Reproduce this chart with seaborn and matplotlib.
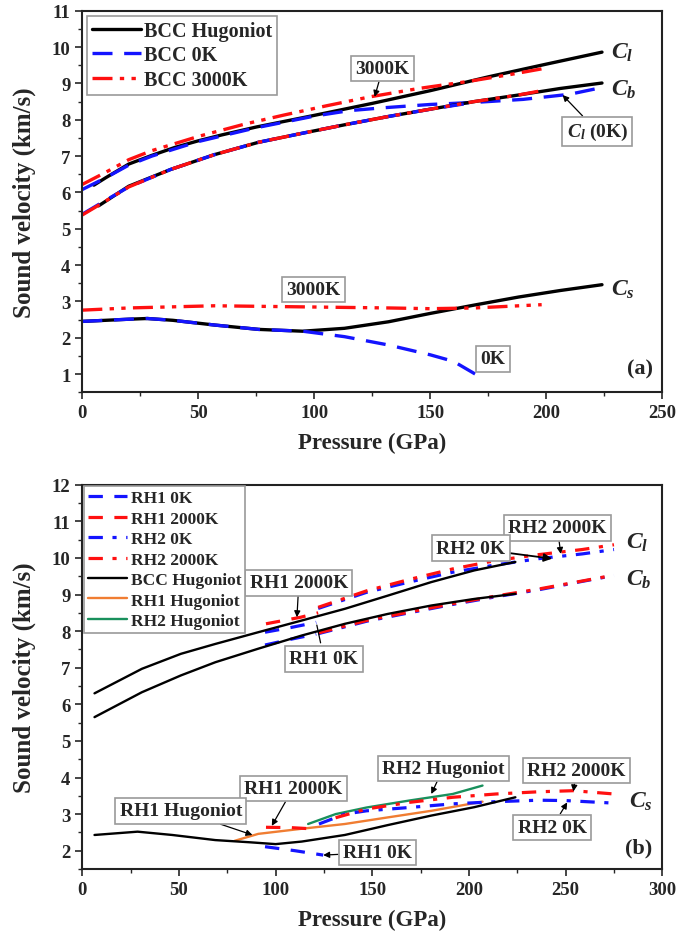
import numpy as np
import pandas as pd
import matplotlib
matplotlib.use("Agg")
import matplotlib.pyplot as plt
from matplotlib.ticker import MultipleLocator
import seaborn as sns

# ---------------- Panel (a) data ----------------
a_hug_cl_p = [5, 10, 20, 30, 40, 50, 60, 75, 100, 125, 150, 175, 200, 224]
a_hug_cl_v = [6.20, 6.40, 6.78, 7.02, 7.24, 7.42, 7.58, 7.80, 8.12, 8.45, 8.80, 9.18, 9.53, 9.86]
a_hug_cb_p = [7, 20, 38, 57, 76, 95, 113, 132, 150, 169, 188, 206, 224]
a_hug_cb_v = [5.63, 6.17, 6.63, 7.04, 7.38, 7.63, 7.86, 8.09, 8.29, 8.50, 8.68, 8.86, 9.01]
a_hug_cs_p = [0, 20, 28, 39, 57, 76, 95, 113, 132, 150, 169, 188, 206, 224]
a_hug_cs_v = [2.45, 2.51, 2.53, 2.48, 2.35, 2.23, 2.18, 2.26, 2.44, 2.67, 2.90, 3.12, 3.30, 3.46]

a_0k_cl_p = [0, 10, 20, 30, 50, 75, 100, 115, 130, 150, 170, 190, 210, 225]
a_0k_cl_v = [6.08, 6.40, 6.75, 7.00, 7.40, 7.78, 8.10, 8.25, 8.33, 8.42, 8.48, 8.56, 8.70, 8.90]
a_0k_cb_p = [0, 10, 20, 38, 57, 76, 95, 113, 132, 150, 165]
a_0k_cb_v = [5.40, 5.78, 6.15, 6.63, 7.04, 7.38, 7.63, 7.86, 8.09, 8.29, 8.44]
a_0k_cs_p = [0, 20, 28, 39, 57, 76, 95, 113, 132, 150, 160, 171]
a_0k_cs_v = [2.45, 2.51, 2.53, 2.48, 2.35, 2.23, 2.18, 2.03, 1.80, 1.53, 1.35, 0.94]

a_3000_cl_p = [0, 10, 20, 30, 50, 70, 87, 105, 124, 145, 167, 185, 198]
a_3000_cl_v = [6.22, 6.55, 6.90, 7.15, 7.54, 7.88, 8.13, 8.38, 8.63, 8.86, 9.06, 9.25, 9.40]
a_3000_cb_p = [0, 10, 20, 38, 57, 76, 95, 113, 132, 150, 169, 188, 198]
a_3000_cb_v = [5.38, 5.76, 6.15, 6.63, 7.04, 7.38, 7.63, 7.86, 8.09, 8.29, 8.50, 8.68, 8.80]
a_3000_cs_p = [0, 20, 57, 95, 132, 150, 169, 198]
a_3000_cs_v = [2.76, 2.82, 2.88, 2.85, 2.82, 2.80, 2.82, 2.91]

# ---------------- Panel (b) data ----------------
b_hug_cl_p = [6.3, 30.8, 51, 68.8, 91, 113.5, 135.8, 158, 180.5, 202.8, 224]
b_hug_cl_v = [6.30, 6.97, 7.38, 7.65, 7.97, 8.29, 8.61, 8.97, 9.34, 9.66, 9.89]
b_hug_cb_p = [6.3, 30.8, 51, 68.8, 91, 113.5, 135.8, 158, 180.5, 202.8, 224]
b_hug_cb_v = [5.65, 6.33, 6.79, 7.15, 7.52, 7.88, 8.20, 8.47, 8.70, 8.88, 9.02]
b_hug_cs_p = [6.3, 28.6, 46.5, 68.8, 86.7, 100, 113.5, 135.8, 158, 180.5, 202.8, 224]
b_hug_cs_v = [2.43, 2.52, 2.43, 2.29, 2.23, 2.18, 2.25, 2.43, 2.70, 2.96, 3.19, 3.46]

b_rh1_0k_cl_p = [94.5, 108, 121]
b_rh1_0k_cl_v = [7.97, 8.10, 8.24]
b_rh1_0k_cb_p = [94.5, 108, 121]
b_rh1_0k_cb_v = [7.62, 7.78, 7.92]
b_rh1_0k_cs_p = [94.5, 110, 124.6]
b_rh1_0k_cs_v = [2.11, 2.00, 1.88]

b_rh1_2000_cl_p = [95, 113, 122]
b_rh1_2000_cl_v = [8.20, 8.38, 8.50]
b_rh1_2000_cs_p = [95, 108, 118]
b_rh1_2000_cs_v = [2.64, 2.63, 2.60]

b_rh2_0k_cl_p = [122, 147, 169, 191.6, 214, 236, 258.6, 275]
b_rh2_0k_cl_v = [8.62, 9.06, 9.34, 9.61, 9.81, 9.98, 10.11, 10.23]
b_rh2_0k_cb_p = [122, 147, 169, 191.6, 214, 236, 258.6, 275]
b_rh2_0k_cb_v = [7.93, 8.27, 8.50, 8.73, 8.94, 9.13, 9.36, 9.52]
b_rh2_0k_cs_p = [122.4, 135.8, 147, 169, 191.6, 214, 236, 250, 275]
b_rh2_0k_cs_v = [2.73, 3.00, 3.09, 3.18, 3.28, 3.34, 3.38, 3.37, 3.30]

b_rh2_2000_cl_p = [122, 147, 169, 191.6, 214, 236, 258.6, 275]
b_rh2_2000_cl_v = [8.65, 9.10, 9.41, 9.70, 9.93, 10.09, 10.23, 10.36]
b_rh2_2000_cb_p = [122, 147, 169, 191.6, 214, 236, 258.6, 275]
b_rh2_2000_cb_v = [7.95, 8.29, 8.52, 8.75, 8.96, 9.15, 9.37, 9.53]
b_rh2_2000_cs_p = [131, 147, 169, 191.6, 214, 236, 254, 275]
b_rh2_2000_cs_v = [2.90, 3.14, 3.32, 3.46, 3.55, 3.61, 3.64, 3.55]

b_rh1_hug_p = [78.8, 91, 113.5, 135.8, 158, 180.5, 207]
b_rh1_hug_v = [2.27, 2.46, 2.60, 2.73, 2.91, 3.09, 3.34]
b_rh2_hug_p = [116.8, 131, 147, 169, 191.6, 207]
b_rh2_hug_v = [2.73, 3.00, 3.18, 3.37, 3.55, 3.78]

# ---------------- style ----------------
sns.set_style("ticks")
plt.rcParams['font.family'] = ['Liberation Serif', 'DejaVu Serif']
plt.rcParams['font.weight'] = 'bold'
plt.rcParams['axes.labelweight'] = 'bold'
plt.rcParams['mathtext.fontset'] = 'custom'
plt.rcParams['mathtext.it'] = 'Liberation Serif:italic:bold'
plt.rcParams['mathtext.rm'] = 'Liberation Serif:bold'

BLUE = '#1414ff'
RED = '#ff1010'
ORANGE = '#f07d32'
GREEN = '#19905c'

fig = plt.figure(figsize=(6.77, 9.37), dpi=100)
ax1 = fig.add_axes([0.1216, 0.5803, 0.8567, 0.4072])
ax2 = fig.add_axes([0.1216, 0.0715, 0.8567, 0.4101])


def line(ax, p, v, color, lw, ls, label=None):
    sns.lineplot(x=p, y=v, ax=ax, color=color, lw=lw, linestyle=ls,
                 label=label, sort=False, legend=False)


box = dict(boxstyle='square,pad=0.22', fc='white', ec='#9a9a9a', lw=1.2)
arr = dict(arrowstyle='-|>', color='black', lw=0.9, mutation_scale=9, shrinkA=0, shrinkB=0)

# ---- panel (a)
dash_a = (0, (6, 3.5))
dd_a = (0, (6, 2.2, 1.3, 2.2, 1.3, 2.2))
lwA = 2.4
line(ax1, a_hug_cl_p, a_hug_cl_v, 'black', lwA, '-', 'BCC Hugoniot')
line(ax1, a_0k_cl_p, a_0k_cl_v, BLUE, lwA, dash_a, 'BCC 0K')
line(ax1, a_3000_cl_p, a_3000_cl_v, RED, lwA, dd_a, 'BCC 3000K')
line(ax1, a_hug_cb_p, a_hug_cb_v, 'black', lwA, '-')
line(ax1, a_0k_cb_p, a_0k_cb_v, BLUE, lwA, dash_a)
line(ax1, a_3000_cb_p, a_3000_cb_v, RED, lwA, dd_a)
line(ax1, a_hug_cs_p, a_hug_cs_v, 'black', lwA, '-')
line(ax1, a_0k_cs_p, a_0k_cs_v, BLUE, lwA, dash_a)
line(ax1, a_3000_cs_p, a_3000_cs_v, RED, lwA, dd_a)

ax1.set_xlim(0, 250)
ax1.set_ylim(0.5, 11)
ax1.xaxis.set_major_locator(MultipleLocator(50))
ax1.xaxis.set_minor_locator(MultipleLocator(25))
ax1.set_yticks(range(1, 12))
ax1.yaxis.set_minor_locator(MultipleLocator(0.5))

fa = 14
ax1.annotate('3000K', xy=(126, 8.63), xytext=(129.5, 9.41), fontsize=fa,
             ha='center', va='center', bbox=box, arrowprops=arr)
ax1.annotate(r'$C_l$ (0K)', xy=(207, 8.68), xytext=(222, 7.68), fontsize=fa,
             ha='center', va='center', bbox=box, arrowprops=arr)
ax1.text(99.6, 3.33, '3000K', fontsize=fa, ha='center', va='center', bbox=box)
ax1.text(177, 1.42, '0K', fontsize=fa, ha='center', va='center', bbox=box)
ax1.text(228, 9.86, r'$C_l$', fontsize=17, ha='left', va='center')
ax1.text(228, 8.86, r'$C_b$', fontsize=17, ha='left', va='center')
ax1.text(228, 3.35, r'$C_s$', fontsize=17, ha='left', va='center')
ax1.text(246, 1.15, '(a)', fontsize=16, ha='right', va='center')

leg1 = ax1.legend(loc='upper left', fontsize=14.5, handlelength=2.4, fancybox=False,
                  edgecolor='#9a9a9a', framealpha=1, borderaxespad=0.25,
                  labelspacing=0.22, handletextpad=0.15, borderpad=0.25)
leg1.get_frame().set_linewidth(1.2)

# ---- panel (b)
dash_b = (0, (4.5, 3.6))
dashdot_b = (0, (4.5, 3, 1.3, 3))
lwB = 2.3
lwH = 1.7
line(ax2, b_rh1_0k_cl_p, b_rh1_0k_cl_v, BLUE, lwB, dash_b, 'RH1 0K')
line(ax2, b_rh1_2000_cl_p, b_rh1_2000_cl_v, RED, lwB, dash_b, 'RH1 2000K')
line(ax2, b_rh2_0k_cl_p, b_rh2_0k_cl_v, BLUE, lwB, dashdot_b, 'RH2 0K')
line(ax2, b_rh2_2000_cl_p, b_rh2_2000_cl_v, RED, lwB, dashdot_b, 'RH2 2000K')
line(ax2, b_hug_cl_p, b_hug_cl_v, 'black', lwH, '-', 'BCC Hugoniot')
line(ax2, b_rh1_hug_p, b_rh1_hug_v, ORANGE, lwH, '-', 'RH1 Hugoniot')
line(ax2, b_rh2_hug_p, b_rh2_hug_v, GREEN, lwH, '-', 'RH2 Hugoniot')

line(ax2, b_rh1_0k_cb_p, b_rh1_0k_cb_v, BLUE, lwB, dash_b)
line(ax2, b_rh2_0k_cb_p, b_rh2_0k_cb_v, BLUE, lwB, dashdot_b)
line(ax2, b_rh2_2000_cb_p, b_rh2_2000_cb_v, RED, lwB, dashdot_b)
line(ax2, b_hug_cb_p, b_hug_cb_v, 'black', lwH, '-')

line(ax2, b_rh1_0k_cs_p, b_rh1_0k_cs_v, BLUE, lwB, dash_b)
line(ax2, b_rh1_2000_cs_p, b_rh1_2000_cs_v, RED, lwB, dash_b)
line(ax2, b_rh2_0k_cs_p, b_rh2_0k_cs_v, BLUE, lwB, dashdot_b)
line(ax2, b_rh2_2000_cs_p, b_rh2_2000_cs_v, RED, lwB, dashdot_b)
line(ax2, b_hug_cs_p, b_hug_cs_v, 'black', lwH, '-')

ax2.set_xlim(0, 300)
ax2.set_ylim(1.5, 12)
ax2.xaxis.set_major_locator(MultipleLocator(50))
ax2.xaxis.set_minor_locator(MultipleLocator(25))
ax2.set_yticks(range(2, 13))
ax2.yaxis.set_minor_locator(MultipleLocator(0.5))

fs = 14
ax2.annotate('RH1 2000K', xy=(111, 8.38), xytext=(112, 9.32), fontsize=fs,
             ha='center', va='center', bbox=box, arrowprops=arr)
ax2.annotate('RH1 0K', xy=(121, 8.24), xytext=(125, 7.24), fontsize=fs,
             ha='center', va='center', bbox=box,
             arrowprops=dict(arrowstyle='-', color='black', lw=0.9))
ax2.annotate('RH2 2000K', xy=(247.5, 10.11), xytext=(245.7, 10.82), fontsize=fs,
             ha='center', va='center', bbox=box, arrowprops=arr)
ax2.annotate('RH2 0K', xy=(243, 9.98), xytext=(201, 10.27), fontsize=fs,
             ha='center', va='center', bbox=box,
             arrowprops=dict(arrowstyle='-|>', color='black', lw=1.3, mutation_scale=12, shrinkA=0, shrinkB=0))
ax2.annotate('RH1 2000K', xy=(98, 2.68), xytext=(109, 3.70), fontsize=fs,
             ha='center', va='center', bbox=box, arrowprops=arr)
ax2.annotate('RH1 Hugoniot', xy=(88, 2.43), xytext=(51, 3.09), fontsize=fs,
             ha='center', va='center', bbox=box, arrowprops=arr)
ax2.annotate('RH2 Hugoniot', xy=(180.5, 3.55), xytext=(186.7, 4.25), fontsize=fs,
             ha='center', va='center', bbox=box, arrowprops=arr)
ax2.annotate('RH2 2000K', xy=(254, 3.62), xytext=(255.5, 4.19), fontsize=fs,
             ha='center', va='center', bbox=box, arrowprops=arr)
ax2.annotate('RH2 0K', xy=(250.8, 3.32), xytext=(243, 2.64), fontsize=fs,
             ha='center', va='center', bbox=box, arrowprops=arr)
ax2.annotate('RH1 0K', xy=(124.6, 1.88), xytext=(152.6, 1.95), fontsize=fs,
             ha='center', va='center', bbox=box, arrowprops=arr)
ax2.text(281, 10.45, r'$C_l$', fontsize=17, ha='left', va='center')
ax2.text(281, 9.43, r'$C_b$', fontsize=17, ha='left', va='center')
ax2.text(283, 3.35, r'$C_s$', fontsize=17, ha='left', va='center')
ax2.text(295, 2.1, '(b)', fontsize=16, ha='right', va='center')

leg2 = ax2.legend(loc='upper left', fontsize=12.5, handlelength=2.3, fancybox=False,
                  edgecolor='#9a9a9a', framealpha=1, borderaxespad=0.1,
                  labelspacing=0.25, handletextpad=0.2, borderpad=0.2)
leg2.get_frame().set_linewidth(1.2)

for ax in (ax1, ax2):
    ax.set_xlabel('Pressure (GPa)', fontsize=16.5, fontweight='bold', labelpad=8)
    ax.set_ylabel('Sound velocity (km/s)', fontsize=18, fontweight='bold', labelpad=11)
    ax.tick_params(axis='both', which='major', direction='out', length=5, width=1.2,
                   labelsize=13.5, top=False, right=False)
    ax.tick_params(axis='both', which='minor', direction='out', length=3, width=1.0,
                   top=False, right=False)
    for lab in ax.get_xticklabels() + ax.get_yticklabels():
        lab.set_fontweight('bold')
    for s in ax.spines.values():
        s.set_visible(True)
        s.set_linewidth(1.5)
        s.set_color('#222222')

fig.savefig('out.png', dpi=100)
